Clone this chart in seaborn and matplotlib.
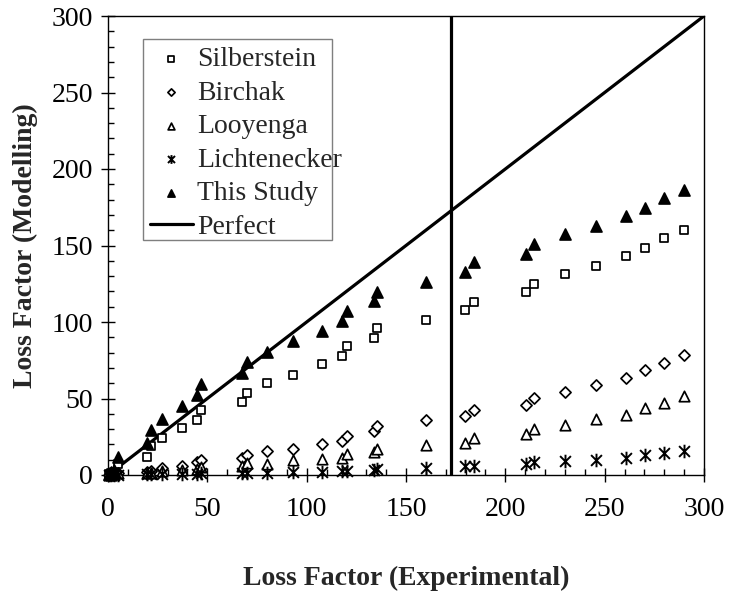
import matplotlib
matplotlib.use("Agg")
import matplotlib.pyplot as plt
import seaborn as sns
from matplotlib.patches import Rectangle
from matplotlib.path import Path
from matplotlib.ticker import MultipleLocator

# Experimental loss factor (shared x for every model)
loss_exp = [0.5, 1.5, 3, 5.2, 19.6, 21.6, 27, 37, 45, 46.6, 67.5, 70, 80, 93,
            107.8, 118, 120.2, 134, 135.5, 160, 179.5, 184.4, 210.6, 214.2,
            230, 245.4, 260.6, 270.4, 280, 290]

# Modelled loss factor per mixing model
silberstein = [0.5, 1.2, 2.2, 7.5, 11.9, 18.8, 24.1, 30.5, 35.7, 42.3, 47.4,
               53.8, 60.4, 65.6, 72.3, 77.9, 84.1, 89.7, 95.9, 101.2, 107.8,
               113.0, 119.5, 124.9, 131.5, 136.7, 143.3, 148.6, 155.0, 160.4]
birchak = [0.2, 0.5, 0.9, 1.6, 2.0, 2.6, 4.5, 5.8, 8.5, 10.0, 11.0, 13.0,
           15.5, 17.3, 20.2, 22.3, 25.4, 28.6, 32.0, 35.7, 38.8, 42.7, 46.0,
           50.5, 54.2, 58.9, 63.5, 68.5, 73.5, 78.3]
looyenga = [0.1, 0.3, 0.6, 1.0, 1.2, 1.5, 2.5, 3.2, 4.2, 5.2, 6.2, 7.8, 7.5,
            9.6, 10.7, 11.3, 13.4, 15.3, 17.1, 19.6, 21.2, 24.3, 26.8, 29.9,
            33.0, 36.3, 39.4, 43.5, 47.0, 51.5]
lichtenecker = [0.05, 0.1, 0.15, 0.3, 0.4, 0.5, 0.6, 0.7, 0.9, 1.0, 1.1, 1.3,
                1.5, 1.9, 2.2, 2.5, 2.8, 3.3, 3.6, 4.7, 5.6, 6.2, 7.0, 8.2,
                8.9, 10.1, 11.1, 12.8, 14.4, 16.0]
this_study = [0.8, 1.8, 3.5, 11.9, 20.8, 29.5, 36.7, 45.0, 52.6, 59.8, 66.6,
              73.8, 80.5, 87.8, 94.4, 100.6, 107.2, 113.4, 119.8, 126.3, 132.5,
              139.1, 144.5, 151.1, 157.3, 162.8, 169.0, 174.4, 180.8, 186.1]

# Ideal 1:1 agreement and the vertical marker line
perfect_x = [0, 300]
perfect_y = [0, 300]
threshold_x = 172.5

axis_max = 300
major_step = 50
minor_step = 10

# Spreadsheet-style star: a vertical stroke crossed by an X
star_marker = Path(
    [(0, -1), (0, 1), (-0.8, -0.8), (0.8, 0.8), (-0.8, 0.8), (0.8, -0.8)],
    [Path.MOVETO, Path.LINETO, Path.MOVETO, Path.LINETO,
     Path.MOVETO, Path.LINETO],
)

sns.set_theme(style="ticks")
plt.rcParams["font.family"] = ["Liberation Serif", "DejaVu Serif"]
plt.rcParams["axes.edgecolor"] = "black"

fig = plt.figure(figsize=(7.4, 5.97), dpi=100)
ax = fig.add_axes([108 / 740, 122 / 597, 596 / 740, 459 / 597])

series = [
    ("Silberstein", silberstein, "s", "white", 34, 1.25),
    ("Birchak", birchak, "D", "white", 32, 1.25),
    ("Looyenga", looyenga, "^", "white", 56, 1.25),
    ("Lichtenecker", lichtenecker, star_marker, "black", 95, 1.4),
    ("This Study", this_study, "^", "black", 62, 1.25),
]

for name, vals, marker, face, size, lw in series:
    kws = dict(x=loss_exp, y=vals, marker=marker, s=size, ax=ax, label=name,
               clip_on=False, zorder=3, linewidth=lw)
    if face == "white":
        kws.update(color="white", edgecolor="black")
    else:
        kws.update(color="black", edgecolor="black")
    sns.scatterplot(**kws)

sns.lineplot(x=perfect_x, y=perfect_y, color="black", linewidth=2.3,
             label="Perfect", ax=ax, zorder=2)
ax.axvline(threshold_x, color="black", linewidth=2.3, zorder=2)

ax.set_xlim(0, axis_max)
ax.set_ylim(0, axis_max)
for axis in (ax.xaxis, ax.yaxis):
    axis.set_major_locator(MultipleLocator(major_step))
    axis.set_minor_locator(MultipleLocator(minor_step))

ax.tick_params(which="major", direction="inout", length=9.5, width=1,
               labelsize=20, color="black", labelcolor="black",
               top=False, right=False)
ax.tick_params(which="minor", direction="in", length=4.5, width=1,
               color="black", top=False, right=False)
ax.tick_params(axis="x", which="major", pad=11)
ax.tick_params(axis="y", which="major", pad=6)
for sp in ax.spines.values():
    sp.set_color("black")
    sp.set_linewidth(1)

ax.set_xlabel("Loss Factor (Experimental)", fontsize=20, fontweight="bold",
              labelpad=32)
ax.set_ylabel("Loss Factor (Modelling)", fontsize=20, fontweight="bold",
              labelpad=10)

# Legend box drawn as a plain rectangle behind the entries
ax.add_patch(Rectangle((0.0584, 0.511), 0.376 - 0.0584, 0.950 - 0.511,
                       transform=ax.transAxes, facecolor="white",
                       edgecolor="#7f7f7f", linewidth=1, zorder=4,
                       clip_on=False))
leg = ax.legend(loc="upper left", bbox_to_anchor=(0.0698, 0.933),
                frameon=False, fontsize=20, markerscale=0.65,
                handlelength=1.55, handletextpad=0.17, labelspacing=0.29,
                borderpad=0, borderaxespad=0)
leg.set_zorder(5)

fig.savefig("out.png", dpi=100)
